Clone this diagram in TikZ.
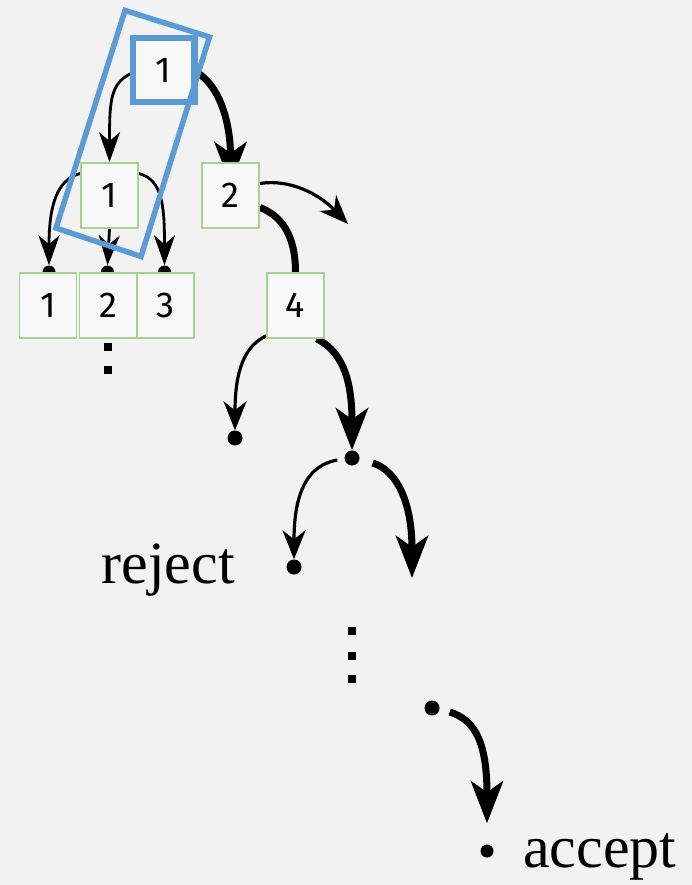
\documentclass[tikz,border=0pt]{standalone}
\usepackage{fontspec}
\setmainfont{Liberation Serif}
\newfontfamily\digitfont{Fira Sans}
\usetikzlibrary{arrows.meta}
\definecolor{bgc}{HTML}{F2F2F2}
\definecolor{boxfill}{HTML}{F8F8F8}
\definecolor{boxline}{HTML}{A9D18E}
\definecolor{hiblue}{HTML}{5B9BD5}
\pgfdeclarelayer{bglayer}
\pgfdeclarelayer{arrowlayer}
\pgfdeclarelayer{toplayer}
\pgfsetlayers{bglayer,arrowlayer,main,toplayer}
\begin{document}
\begin{tikzpicture}[x=1pt,y=1pt,
  numbox/.style={draw=boxline, line width=1.6pt, fill=boxfill, minimum width=57pt, minimum height=65pt, inner sep=0pt, font=\digitfont\fontsize{36}{36}\selectfont},
  dotnode/.style={circle, fill=black, inner sep=0pt, minimum size=15pt},
  sqdot/.style={fill=black, inner sep=0pt, minimum size=8pt},
  thinarr/.style={line width=2.8pt, -{Stealth[length=30pt,width=21pt,inset=9pt]}},
  medarr/.style={line width=3.2pt, -{Stealth[length=29pt,width=23pt,inset=9pt]}},
  thickarr/.style={line width=7pt, -{Stealth[length=42pt,width=32pt,inset=11pt]}},
  thickline/.style={line width=7pt},
  lbl/.style={inner sep=0pt, font=\fontsize{60}{60}\selectfont}
]
\begin{pgfonlayer}{bglayer}
\fill[bgc] (0,0) rectangle (692,-885);
\end{pgfonlayer}
\useasboundingbox (0,0) rectangle (692,-885);

% dots at top of bottom row (under boxes)
\node[dotnode, minimum size=13pt] (bd1) at (49,-272) {};
\node[dotnode, minimum size=13pt] (bd2) at (107.5,-272) {};
\node[dotnode, minimum size=13pt] (bd3) at (164.5,-272) {};

% boxes
\node[numbox] (r1) at (163.5,-70) {1};
\node[numbox] (m1) at (109.5,-195.5) {1};
\node[numbox] (n2) at (230.5,-195.5) {2};
\node[numbox] (b1) at (48,-305.5) {1};
\node[numbox] (b2) at (108,-305.5) {2};
\node[numbox] (b3) at (165.5,-305.5) {3};
\node[numbox] (n4) at (295.5,-305.5) {4};

% dots
\node[dotnode] (dA) at (235,-438) {};
\node[dotnode] (dB) at (352,-458) {};
\node[dotnode] (dC) at (294,-567) {};
\node[dotnode] (dD) at (432,-708) {};
\node[dotnode, minimum size=13pt] (dE) at (487,-851) {};

% labels
\node[lbl, anchor=base east] (rej) at (235,-583) {reject};
\node[lbl, anchor=base west] (acc) at (523,-867) {accept};

% ellipses
\node[sqdot] (e1) at (108,-347) {};
\node[sqdot] (e2) at (108,-370) {};
\node[sqdot] (e3) at (352,-631) {};
\node[sqdot] (e4) at (352,-656) {};
\node[sqdot] (e5) at (352,-679) {};

% free ends
\coordinate (f1) at (348,-224);
\coordinate (f2) at (412,-578);

\begin{pgfonlayer}{arrowlayer}
\draw[thinarr] ([yshift=-2pt]r1.west) .. controls +(-24,-10) and +(0,63) .. (m1.north);
\draw[thickarr] (r1.east) .. controls +(30,-15) and +(0,55) .. ([yshift=-22pt]n2.north);
\draw[thinarr] ([yshift=22pt]m1.west) .. controls +(-24,-6) and +(0,58) .. (bd1.north);
\draw[thinarr] (m1.south) -- (bd2.north);
\draw[thinarr] ([yshift=22pt]m1.east) .. controls +(24,-6) and +(0,58) .. (bd3.north);
\draw[medarr] ([yshift=12pt]n2.east) .. controls +(31,5) and +(-28,29) .. (f1);
\draw[thickline] ([yshift=-12pt]n2.east) .. controls +(21,-8) and +(0,38) .. (n4.north);
\draw[medarr] ([yshift=3pt]n4.south west) .. controls +(-21,-10) and +(0,61) .. (dA.north);
\draw[thickarr] ([xshift=-8pt]n4.south east) .. controls +(23,-12) and +(0,76) .. (dB.north);
\draw[medarr] ([xshift=-7pt,yshift=-2pt]dB.west) .. controls +(-28,-5) and +(0,70) .. (dC.north);
\draw[thickarr] ([xshift=13pt,yshift=-5pt]dB.east) .. controls +(23,-7) and +(0,78) .. (f2);
\draw[thickarr] ([xshift=10pt,yshift=-4pt]dD.east) .. controls +(26,-8) and +(0,80) .. ([yshift=21pt]dE.north);
\end{pgfonlayer}

\begin{pgfonlayer}{toplayer}
\draw[hiblue, line width=6.5pt] (133,-38) rectangle (194.5,-102);
\draw[hiblue, line width=5.5pt, line join=miter] (125,-10.5) -- (209.5,-37) -- (141,-256.5) -- (56,-228) -- cycle;
\end{pgfonlayer}
\end{tikzpicture}
\end{document}
